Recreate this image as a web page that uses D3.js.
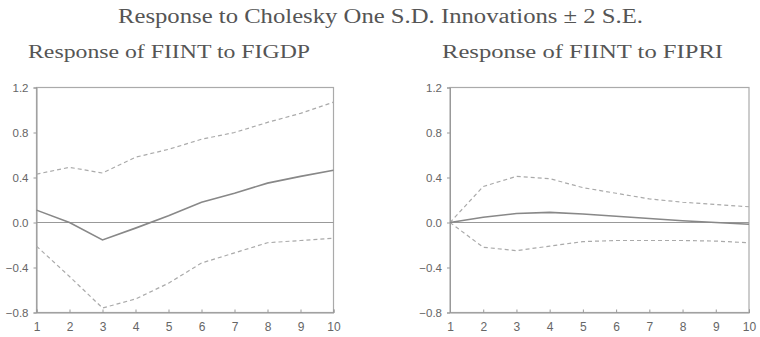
<!DOCTYPE html>
<html>
<head>
<meta charset="utf-8">
<script src="https://cdn.jsdelivr.net/npm/d3@7"></script>
<style>
  body { margin: 0; background: #fff; }
  svg { display: block; }
  .tick text { font-family: "Liberation Sans", Arial, sans-serif; font-size: 11.5px; fill: #666; }
</style>
</head>
<body>
<svg id="chart" width="760" height="337"></svg>
<script>
// periods on the x axis
var periods = [1, 2, 3, 4, 5, 6, 7, 8, 9, 10];
var yTicks = [-0.8, -0.4, 0.0, 0.4, 0.8, 1.2];

// FIINT to FIGDP
var gdpResp  = [0.11, 0.00, -0.155, -0.05, 0.06, 0.18, 0.26, 0.35, 0.41, 0.465];
var gdpUpper = [0.43, 0.49, 0.44, 0.58, 0.65, 0.74, 0.80, 0.89, 0.97, 1.07];
var gdpLower = [-0.21, -0.48, -0.76, -0.68, -0.54, -0.36, -0.27, -0.18, -0.16, -0.14];

// FIINT to FIPRI
var priResp  = [0.0, 0.047, 0.08, 0.09, 0.075, 0.055, 0.035, 0.015, 0.0, -0.015];
var priUpper = [0.0, 0.32, 0.41, 0.39, 0.31, 0.26, 0.21, 0.18, 0.16, 0.14];
var priLower = [0.0, -0.22, -0.25, -0.21, -0.17, -0.16, -0.16, -0.16, -0.165, -0.18];

var svg = d3.select("#chart");

svg.append("text")
    .attr("x", 118)
    .attr("y", 23)
    .attr("textLength", 525)
    .attr("lengthAdjust", "spacingAndGlyphs")
    .style("font", "20px 'Liberation Serif', serif")
    .attr("fill", "#555")
    .text("Response to Cholesky One S.D. Innovations \u00b1 2 S.E.");

function draw_panel(x0, x1, tx, tw, title, resp, upper, lower) {
    var x = d3.scaleLinear().domain([1, 10]).range([x0, x1]);
    var y = d3.scaleLinear().domain([-0.8, 1.2]).range([312.5, 87.5]);

    var g = svg.append("g");

    g.append("text")
        .attr("x", tx)
        .attr("y", 58)
        .attr("textLength", tw)
        .attr("lengthAdjust", "spacingAndGlyphs")
        .style("font", "18px 'Liberation Serif', serif")
        .attr("fill", "#555")
        .text(title);

    // frame
    g.append("rect")
        .attr("x", x(1)).attr("y", y(1.2))
        .attr("width", x(10) - x(1)).attr("height", y(-0.8) - y(1.2))
        .attr("fill", "none").attr("stroke", "#aaa").attr("stroke-width", 1.2);

    g.append("g")
        .attr("transform", "translate(" + x(1) + ",0)")
        .call(d3.axisLeft(y).tickValues(yTicks).tickFormat(d3.format(".1f")).tickSize(3).tickPadding(5))
        .call(function(a) { a.select(".domain").attr("stroke", "#999"); a.selectAll("line").attr("stroke", "#999"); });

    g.append("g")
        .attr("transform", "translate(0," + y(-0.8) + ")")
        .call(d3.axisBottom(x).tickValues(periods).tickFormat(d3.format("d")).tickSize(-3).tickPadding(10))
        .call(function(a) {
            a.select(".domain").attr("stroke", "#999");
            a.selectAll("line").attr("stroke", "#999");
            a.selectAll("text").style("font-size", "12px");
        });

    // zero line
    g.append("line")
        .attr("x1", x(1)).attr("x2", x(10))
        .attr("y1", y(0)).attr("y2", y(0))
        .attr("stroke", "#999").attr("stroke-width", 1.2);

    var line = d3.line()
        .x(function(d, i) { return x(periods[i]); })
        .y(function(d) { return y(d); });

    g.append("path").attr("d", line(upper))
        .attr("fill", "none").attr("stroke", "#aaa").attr("stroke-width", 1.2)
        .attr("stroke-dasharray", "4,3");
    g.append("path").attr("d", line(lower))
        .attr("fill", "none").attr("stroke", "#aaa").attr("stroke-width", 1.2)
        .attr("stroke-dasharray", "4,3");
    g.append("path").attr("d", line(resp))
        .attr("fill", "none").attr("stroke", "#888").attr("stroke-width", 1.6);
}

draw_panel(36.5, 333.5, 28, 282, "Response of FIINT to FIGDP", gdpResp, gdpUpper, gdpLower);
draw_panel(450, 749, 442, 281, "Response of FIINT to FIPRI", priResp, priUpper, priLower);
</script>
</body>
</html>
